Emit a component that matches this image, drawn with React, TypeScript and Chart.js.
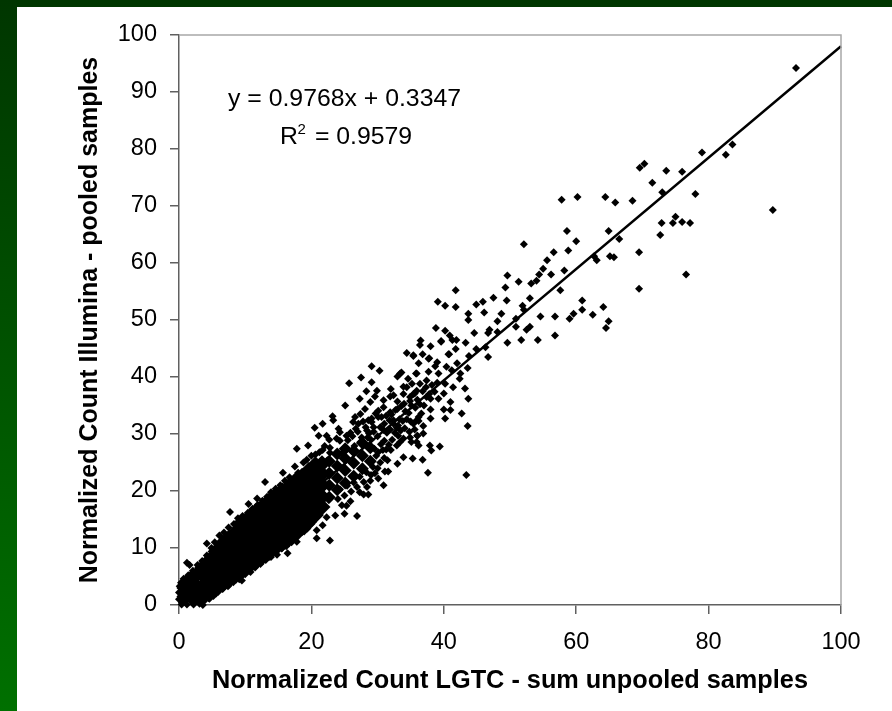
import React, { useEffect, useRef } from "react";
import { Chart, registerables } from "chart.js";

Chart.register(...registerables);

type Pair = [number, number];

const yTicks = [0, 10, 20, 30, 40, 50, 60, 70, 80, 90, 100];
const xTickStep = 20;
const xAxisTitle = "Normalized Count LGTC - sum unpooled samples";
const yAxisTitle = "Normalized Count Illumina - pooled samples";
const equationText = "y = 0.9768x + 0.3347";
const rSquaredValue = " = 0.9579";

const trendLine: Pair[] = [[0, 0.3347], [100, 98.0147]];

// the solid cloud: too dense to read single marks, so it is read as columns
const coreColumns: [number, number[]][] = [
  [0.9, [1.5, 3.0]],
  [1.8, [1.5, 3.2, 4.6]],
  [2.6, [1.5, 3.2, 5.2]],
  [3.6, [1.6, 3.4, 5.4, 6.6]],
  [4.6, [1.9, 3.8, 5.8, 7.8]],
  [5.6, [2.8, 4.6, 6.6, 8.6, 9.4]],
  [6.6, [3.6, 5.4, 7.4, 9.4, 10.8]],
  [7.6, [4.4, 6.2, 8.2, 10.2, 11.8]],
  [8.6, [5.2, 7, 9, 11, 12.8]],
  [9.6, [6, 7.8, 9.8, 11.8, 13.8, 14.6]],
  [10.6, [6.8, 8.6, 10.6, 12.6, 14.6, 15.4]],
  [11.6, [7.6, 9.4, 11.4, 13.4, 15.4, 16.4]],
  [12.6, [8.4, 10.2, 12.2, 14.2, 16.2, 17.2]],
  [13.6, [9.2, 11, 13, 15, 17, 18.2]],
  [14.6, [10, 11.8, 13.8, 15.8, 17.8, 19.2]],
  [15.6, [10.8, 12.6, 14.6, 16.6, 18.6, 20]],
  [16.6, [11.6, 13.4, 15.4, 17.4, 19.4, 20.8]],
  [17.6, [12.4, 14.2, 16.2, 18.2, 20.2, 21.8]],
  [18.6, [13.6, 15.4, 17.4, 19.4, 21.4, 22.6]],
  [19.6, [14.6, 16.4, 18.4, 20.4, 22.4, 23.6]],
  [20.6, [15.8, 17.6, 19.6, 21.6, 23.6, 24.6]],
  [21.6, [17.2, 19, 21, 23, 24.8]],
];

// the cloud's right shoulder, still nearly solid
const shoulderColumns: [number, number[]][] = [
  [22.7, [18.9, 21, 23.1, 25.2]],
  [23.9, [20.2, 22.3, 24.4, 26.5]],
  [25.1, [21.4, 23.6, 25.7, 27.4]],
  [26.4, [22.6, 24.9, 27]],
  [27.7, [23.9, 26.2, 28.4]],
  [28.9, [25.2, 27.6]],
];

const upperEdge: Pair[] = [
  [0, 1], [0, 2.2], [0.1, 3.3], [0.3, 3.9], [0.7, 4.6], [1.2, 7.4], [1.6, 7], [1.4, 5.2], [2.1, 6], [2.8, 7], [3.5, 7.7],
  [4.2, 10.8], [4.2, 8.7], [4.9, 10], [5.4, 11], [6.1, 12.2], [6.8, 12.7], [7.7, 16.3], [7.5, 13.6], [8.3, 14.2],
  [8.9, 15.2], [9.6, 15.6], [10.5, 17.7], [10.4, 16.2], [11.1, 16.9], [11.8, 18.7], [11.9, 17.6], [12.6, 18.3],
  [13, 21.6], [13.3, 19], [13.9, 19.8], [14.6, 20.4], [15.3, 21], [15.7, 23.2], [16, 21.8], [16.7, 22.4],
  [17.5, 24.3], [17.8, 27.4], [18, 23.2], [18.8, 25], [19.5, 28], [19.3, 25.5], [20, 26.2], [20.5, 31.1], [20.6, 26.4],
  [21.2, 26.8], [21.7, 27.2], [22, 27.9],
];

const lowerEdge: Pair[] = [
  [0.4, 0.1], [1.2, 0.1], [2.2, 0.1], [3.1, 0.2], [3.6, 0], [3.8, 0.7], [4.5, 1.2], [5.2, 1.6], [5.9, 2.3], [6.6, 2.9],
  [7.4, 3.3], [8.2, 4], [9.1, 4.5], [9.5, 4.3], [10, 5.4], [10.8, 5.8], [11.5, 6.6], [12.3, 7.2], [13.1, 7.9],
  [13.9, 8.4], [14.8, 8.8], [15.5, 9.9], [16.4, 9.1], [16.2, 10.3], [17, 11], [17.8, 11.1], [17.8, 12], [18.9, 12.9],
  [19.4, 13.4], [20, 14.2], [20.8, 13.1], [20.8, 11.7], [21.7, 14], [22.8, 11.3], [22.3, 15.4], [23.6, 15.7], [25, 16], [26.9, 15.6],
];

const denseFringe: Pair[] = [
  [22.6, 18.4], [22.4, 25.4], [22.8, 26.7], [24, 18.6], [24.3, 20.3], [24.6, 26.6],
  [24.3, 28.8], [25, 19.2], [25.4, 20.9], [25.2, 27.2], [25.5, 28.9],
  [26, 19.9], [26.4, 21.5], [26.5, 27.9], [26.2, 29.6], [26.9, 20.7],
  [27.3, 22.5], [27.4, 28.6], [27, 30.4], [27.9, 21.6], [28.3, 23.3],
  [28.5, 29.4], [28.2, 31.2], [29, 22.8], [29.3, 24.2],
  [29.5, 27.4], [29, 29], [29.4, 30.4], [29.1, 32.1], [30, 24], [30.4, 25], [30.1, 26.8], [30.5, 28.2], [30, 29.6],
  [30.4, 31.2], [30.1, 33], [31, 25.8], [31.3, 27.3], [31, 28.8], [31.4, 30.2], [31, 31.8], [31.3, 33.2], [32, 27.2],
  [32.2, 29], [31.9, 30.8], [32.4, 31.8], [32.1, 33.4], [32.9, 28], [33.1, 29.7], [32.9, 31.1], [33.3, 32.6],
  [33, 34.4], [33.9, 29.2], [34.1, 31], [33.8, 32.3], [34.2, 34], [34, 35.3], [34.8, 30.4], [35, 32.2], [34.7, 33.7],
  [35.1, 35], [35.6, 30.8], [35.9, 32.4], [35.7, 34.6], [36, 36], [36.6, 33.6], [37, 35], [36.8, 37.5], [37.3, 38.2],
  [38.6, 37.4], [39, 39], [29.8, 26.2], [30.8, 27.2], [31.7, 28.1], [32.6, 30.2], [33.5, 30.6], [34.4, 32.6],
  [28.7, 30.1], [27.6, 29.4], [26.7, 30.9], [25.9, 30.2], [30.9, 30.7], [31.8, 32.4], [32.7, 34.2], [33.6, 34.9],
  [29.7, 33.6], [28.6, 32.4], [27.8, 32.2], [34.9, 35.8], [35.4, 37], [36.4, 35.2], [37.8, 37], [29.6, 23.1],
];

const midScatter: Pair[] = [
  [30.3, 41.1], [27.5, 39.9], [25.7, 38.9], [29.1, 41.9], [29.1, 39.1], [33, 40.1], [33.6, 40.8], [35.9, 40.6],
  [28.3, 37.5], [29.9, 37.6], [27.3, 36.2], [29.6, 36.6], [32, 37.9], [25.1, 35], [28.9, 35.6], [30.9, 35.9],
  [33, 35.7], [32.4, 36.8], [31.9, 36.6], [34.4, 38.2], [35.2, 38.8], [33.9, 37], [34.9, 36.5], [35.9, 37.6],
  [28.1, 34.4], [30.1, 34.1], [30.9, 34.7], [31.9, 33.8], [26.6, 33],
  [27.4, 33.5], [23.2, 33.1], [23.3, 32.4], [21.7, 31.8], [24.1, 30.9], [24.3, 30.3], [26.3, 32.1], [27.1, 31.8],
  [29.1, 32.7], [30.6, 33], [32.4, 32.4], [21.1, 29.7], [22.3, 29.7], [25.3, 29.7], [28.4, 30.6], [29.4, 31.2],
  [33.1, 31.5], [35.4, 31.8], [36.2, 33], [34.9, 29.4], [35.9, 28.6], [33.4, 28.6],
  [36, 29.7], [23.8, 29.2], [22.8, 27.6], [33.9, 25.9], [35.3, 25.7],
  [33, 24.8], [31.5, 25.4], [31.1, 23.4], [31.6, 23.4], [30.9, 21], [28.9, 21.8], [30.1, 22.2], [28.4, 20.7],
  [27.9, 19.4], [24.6, 17.5], [25.9, 18.2], [28.6, 19.4], [27.3, 19.8], [22.7, 29], [25.3, 17.4],
];

const tailLeft: Pair[] = [
  [34.4, 44.2], [36.5, 46.4], [36.4, 45.6], [38, 45.4], [39.6, 46.3], [38.8, 48.6], [40.2, 48.1], [40.9, 47.3],
  [41.3, 46.5], [41.9, 46.5], [39.6, 46.2], [43.3, 46], [35.4, 43.7], [36.8, 44], [37.8, 43.3],
  [40.8, 44], [41.8, 44.9], [44.9, 44.9], [46.3, 45.2], [43.8, 43.7], [46.7, 43.5], [36.2, 42.4], [37.7, 43.2],
  [35.4, 43.8], [38.7, 41.9], [37.7, 40.9], [39.2, 40.6], [37.4, 39.4], [36.4, 38.8], [35.8, 40.6], [33.4, 40.6],
  [34.6, 39.7], [33.9, 38.3], [35.6, 37.1], [42.5, 40.6], [42.4, 39.7], [42, 42.4], [40.7, 44], [39, 42.6],
  [40.4, 41.8], [41.2, 41.2], [43.6, 41.6], [38.2, 38.6], [40.2, 38.8], [41.4, 38.2], [43.2, 38], [39.2, 36.2],
  [40, 37.1], [38, 36.2], [37.4, 36.5], [41, 35.6], [43.7, 36.2], [38, 34.3], [40, 34.3], [41, 34.2], [42.7, 33.6],
  [38, 32.7], [40.2, 32.7], [36.2, 32.3], [36.9, 31.4], [43.6, 31.4], [36.9, 30.1], [36, 29.7], [35.1, 28.6],
  [36.2, 28], [37.9, 28], [38.1, 27.1], [39.4, 27.8], [36.8, 25.5], [37.6, 23.2], [43.4, 22.8],
];

const tailRight: Pair[] = [
  [93.2, 94.2], [89.7, 69.3], [83.6, 80.8], [82.6, 79], [79, 79.4], [78, 72.1], [76.6, 58], [76, 76], [73.6, 76.2],
  [73, 72.4], [71.5, 74.1], [70.3, 77.4], [69.6, 76.7], [75, 68.1], [77.2, 67], [76, 67.2], [74.6, 67], [72.9, 67],
  [72.7, 64.9], [68.5, 70.9], [65.9, 70.6], [64.4, 71.6], [60.2, 71.6], [57.8, 71.1], [64.9, 65.6], [66.5, 64.2],
  [69.5, 61.9], [69.5, 55.5], [65.1, 61.2], [65.7, 61], [63.1, 60.5], [62.7, 61.2], [58.6, 65.6], [60, 63.8],
  [58.8, 62.2], [52.1, 63.3], [56.6, 61.9], [55.6, 60.5], [55, 59], [54.4, 58], [56.2, 58], [58.2, 58.7], [54, 56.9],
  [53.2, 56.4], [51.3, 56.7], [49.6, 57.8], [49.3, 55.7], [57.6, 55.2], [49.5, 53.4], [47.5, 53.9], [45.9, 53.2],
  [44.9, 52.7], [41.8, 55.2], [39.1, 53.2], [40.2, 52.5], [41.8, 52.3], [46.1, 51.3], [43.7, 51.1], [43.7, 50],
  [48.7, 51.1], [48.1, 49.8], [51.9, 52.5], [52.1, 51.8], [53, 53.8], [60.9, 53.4], [60.9, 51.8], [64.1, 52.3],
  [62.5, 50.9], [59.6, 51.1], [59, 50.2], [64.9, 49.8], [64.5, 48.6], [56.8, 50.6], [54.6, 50.6], [50.9, 48.8],
  [50.9, 50.2], [53, 48.8], [52.5, 48.3], [56.8, 47.3], [54.2, 46.5], [51.7, 46.5], [49.6, 46], [48.1, 47.9],
  [46.9, 48.3], [46.7, 47.7], [44.6, 47.7],
];

const toPoints = (pairs: Pair[]) => pairs.map(([x, y]) => ({ x, y }));
const fromColumns = (cols: [number, number[]][]) => cols.flatMap(([x, ys]) => ys.map((y) => ({ x, y })));

const FONT = '"Liberation Sans", Arial, sans-serif';

const frameAndNotes = {
  id: "frameAndNotes",
  afterDraw(chart: any) {
    const { ctx, chartArea: a } = chart;
    ctx.save();
    ctx.strokeStyle = "#a8a8a8";
    ctx.lineWidth = 1.5;
    ctx.beginPath();
    ctx.moveTo(a.left, a.top);
    ctx.lineTo(a.right, a.top);
    ctx.lineTo(a.right, a.bottom);
    ctx.stroke();
    ctx.fillStyle = "#000";
    ctx.textBaseline = "alphabetic";
    ctx.textAlign = "left";
    ctx.font = `24.8px ${FONT}`;
    ctx.fillText(equationText, 228, 106);
    ctx.fillText("R", 280, 144);
    ctx.fillText(rSquaredValue, 308, 144);
    ctx.font = `15px ${FONT}`;
    ctx.fillText("2", 297.5, 134);
    ctx.restore();
  },
};

export default function App() {
  const ref = useRef<HTMLCanvasElement>(null);
  useEffect(() => {
    if (!ref.current) return;
    const marker = { pointStyle: "rectRot", pointBorderWidth: 0, backgroundColor: "#000", borderColor: "#000", showLine: false, clip: false as any };
    const small = 4;
    const chart = new Chart(ref.current, {
      type: "scatter",
      plugins: [frameAndNotes],
      data: {
        datasets: [
          { label: "Linear fit", data: toPoints(trendLine), showLine: true, borderColor: "#000", borderWidth: 2.5, pointRadius: 0, clip: false as any },
          { label: "Dense cloud", data: fromColumns(coreColumns), pointRadius: 8.5, ...marker },
          { label: "Shoulder", data: fromColumns(shoulderColumns), pointRadius: 6.5, ...marker },
          { label: "Upper edge", data: toPoints(upperEdge), pointRadius: small, ...marker },
          { label: "Lower edge", data: toPoints(lowerEdge), pointRadius: small, ...marker },
          { label: "Dense fringe", data: toPoints(denseFringe), pointRadius: small, ...marker },
          { label: "Mid scatter", data: toPoints(midScatter), pointRadius: small, ...marker },
          { label: "Tail left", data: toPoints(tailLeft), pointRadius: small, ...marker },
          { label: "Tail right", data: toPoints(tailRight), pointRadius: small, ...marker },
        ],
      },
      options: {
        responsive: false,
        animation: false,
        layout: { padding: { left: 75, top: 35, right: 51, bottom: 15 } },
        plugins: { legend: { display: false }, tooltip: { enabled: false } },
        scales: {
          x: {
            type: "linear",
            min: 0,
            max: 100,
            afterFit: (s: any) => { s.height = 91; },
            border: { color: "#606060", width: 1.5 },
            grid: { display: true, drawOnChartArea: false, drawTicks: true, tickLength: 9, color: "#606060", lineWidth: 1.5 },
            ticks: { stepSize: xTickStep, color: "#000", padding: 14, maxRotation: 0, font: { family: FONT, size: 23.5 } },
            title: { display: true, text: xAxisTitle, color: "#000", padding: 0, font: { family: FONT, size: 25.3, weight: "bold" } },
          },
          y: {
            type: "linear",
            min: yTicks[0],
            max: yTicks[yTicks.length - 1],
            afterFit: (s: any) => { s.width = 104; },
            border: { color: "#606060", width: 1.5 },
            grid: { display: true, drawOnChartArea: false, drawTicks: true, tickLength: 9, color: "#606060", lineWidth: 1.5 },
            ticks: { stepSize: 10, color: "#000", padding: 13, font: { family: FONT, size: 23.5 } },
            title: { display: true, text: yAxisTitle, color: "#000", padding: 0, font: { family: FONT, size: 25, weight: "bold" } },
          },
        },
      },
    } as any);
    return () => chart.destroy();
  }, []);

  return (
    <div style={{ position: "absolute", left: 0, top: 0, width: 892, height: 711, overflow: "hidden", background: "linear-gradient(#003600, #007000)" }}>
      <div style={{ position: "absolute", left: 17, top: 7, width: 875, height: 704, background: "#fff" }} />
      <canvas ref={ref} width={892} height={711} style={{ position: "absolute", left: 0, top: 0 }} />
    </div>
  );
}
